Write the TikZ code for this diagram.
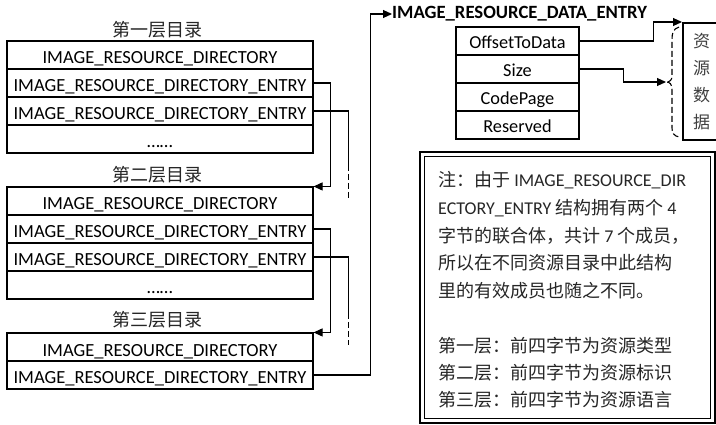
\documentclass[tikz,border=0pt]{standalone}
\usepackage{fontspec}
\setmainfont{Carlito}
\newfontfamily\cjk{Noto Sans CJK SC}
\usetikzlibrary{arrows.meta}
\tikzset{
  row/.style={draw, line width=1.1pt, minimum width=306pt, minimum height=28pt, inner sep=0pt, text height=18pt, text depth=0pt, font=\fontsize{18.5}{20}\selectfont},
  drow/.style={draw, line width=1.1pt, minimum width=123pt, minimum height=28pt, inner sep=0pt, text height=16pt, text depth=0pt, font=\fontsize{18.3}{20}\selectfont},
  ttl/.style={font=\cjk\fontsize{18}{20}\selectfont, text=black!85, inner sep=0pt},
  conn/.style={line width=1.1pt},
  arr/.style={conn, -{Triangle[length=9pt,width=8pt]}},
  dsh/.style={line width=1.1pt, dash pattern=on 6pt off 3pt},
  note/.style={anchor=west, inner sep=0pt, font=\fontsize{18}{20}\selectfont, text=black!85},
}
\begin{document}
\begin{tikzpicture}[x=1pt,y=-1pt]
\useasboundingbox[fill=white] (0,0) rectangle (716,425);
% level 1
\node[ttl] (t1) at (157,30) {第一层目录};
\node[row] (a1) at (160,55) {IMAGE\_RESOURCE\_DIRECTORY};
\node[row] (a2) at (160,83) {IMAGE\_RESOURCE\_DIRECTORY\_ENTRY};
\node[row] (a3) at (160,111) {IMAGE\_RESOURCE\_DIRECTORY\_ENTRY};
\node[row] (a4) at (160,139) {……};
% level 2
\node[ttl] (t2) at (157,175) {第二层目录};
\node[row] (b1) at (160,201) {IMAGE\_RESOURCE\_DIRECTORY};
\node[row] (b2) at (160,229) {IMAGE\_RESOURCE\_DIRECTORY\_ENTRY};
\node[row] (b3) at (160,257) {IMAGE\_RESOURCE\_DIRECTORY\_ENTRY};
\node[row] (b4) at (160,285) {……};
% level 3
\node[ttl] (t3) at (157,320) {第三层目录};
\node[row] (c1) at (160,347) {IMAGE\_RESOURCE\_DIRECTORY};
\node[row] (c2) at (160,375) {IMAGE\_RESOURCE\_DIRECTORY\_ENTRY};
% data entry
\node[anchor=west, inner sep=0pt, font=\bfseries\fontsize{18.7}{20}\selectfont] (de) at (392,14) {IMAGE\_RESOURCE\_DATA\_ENTRY};
\node[drow] (d1) at (517.5,41) {OffsetToData};
\node[drow] (d2) at (517.5,69) {Size};
\node[drow] (d3) at (517.5,97) {CodePage};
\node[drow] (d4) at (517.5,125) {Reserved};
% resource data box
\node[draw, line width=2.2pt, minimum width=37pt, minimum height=117pt, inner sep=0pt, anchor=north west, align=center,
  font=\cjk\fontsize{17}{27}\selectfont, text=black!75] (res) at (682,22) {资\\源\\数\\据};
% connectors
\draw[arr] (a2.east) -- ++(17,0) |- (b1.north east);
\draw[conn] (a3.east) -- ++(35,0) -- ++(0,54) coordinate (a3d);
\draw[dsh] (a3d) -- ++(0,34);
\draw[arr] (b2.east) -- ++(17,0) |- (c1.north east);
\draw[conn] (b3.east) -- ++(35,0) -- ++(0,56) coordinate (b3d);
\draw[dsh] (b3d) -- ++(0,32);
\draw[arr] (c2.east) -- ++(57,0) |- (de.west);
\draw[arr] (d1.east) -- ++(74,0) |- (res.north west);
\coordinate (btip) at (666,82);
\draw[arr] (d2.east) -- ++(44,0) |- (btip);
% dashed brace
\draw[dsh] (679,27) .. controls (673,29) and (672,33) .. (672,40) -- (672,76) .. controls (672,80) and (670,82) .. (btip)
  .. controls (670,82) and (672,84) .. (672,90) -- (672,128) .. controls (672,133) and (674,136) .. (679,137);
% note box
\draw[line width=2.2pt] (420,152) rectangle (715,423);
\draw[line width=0.9pt] (424.5,156.5) rectangle (710.5,418.5);
\node[note] (n1) at (438,180) {{\cjk 注：由于} IMAGE\_RESOURCE\_DIR};
\node[note] (n2) at (438,208) {ECTORY\_ENTRY {\cjk 结构拥有两个} 4};
\node[note] (n3) at (438,236) {{\cjk 字节的联合体，共计} 7 {\cjk 个成员，}};
\node[note] (n4) at (438,263) {\cjk 所以在不同资源目录中此结构};
\node[note] (n5) at (438,291) {\cjk 里的有效成员也随之不同。};
\node[note] (n6) at (438,346) {\cjk 第一层：前四字节为资源类型};
\node[note] (n7) at (438,373) {\cjk 第二层：前四字节为资源标识};
\node[note] (n8) at (438,400) {\cjk 第三层：前四字节为资源语言};
\end{tikzpicture}
\end{document}
